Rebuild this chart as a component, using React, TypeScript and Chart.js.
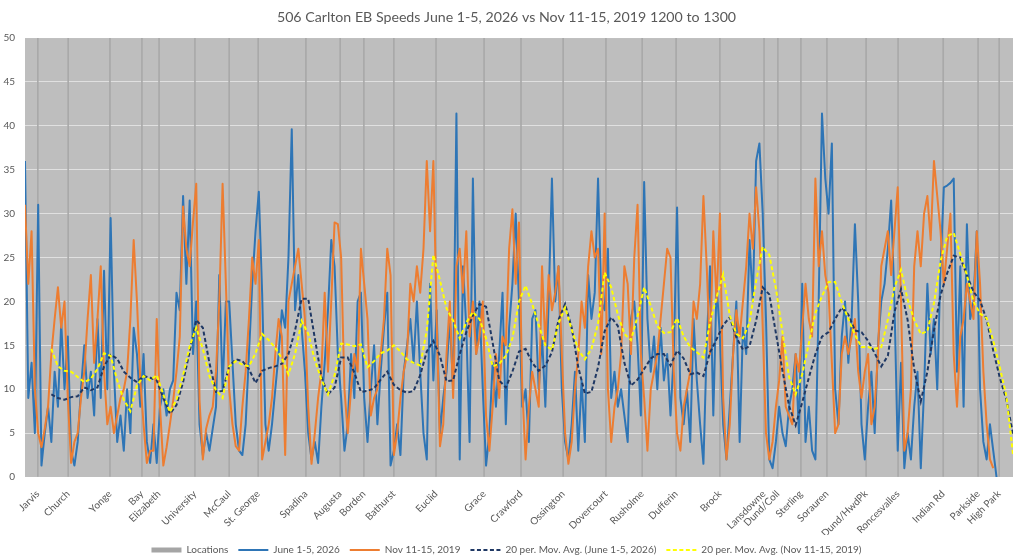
import React, { useEffect, useRef } from "react";
import { Chart, registerables } from "chart.js";

Chart.register(...registerables);
Chart.defaults.font.family = "Lato, 'Noto Sans', sans-serif";
Chart.defaults.color = "#595959";

const TITLE = "506 Carlton EB Speeds June 1-5, 2026 vs Nov 11-15, 2019 1200 to 1300";

const X_MAX = 300;
const Y_MAX = 50;
const Y_STEP = 5;

const LOCATIONS = [
  "Jarvis", "Church", "Yonge", "Bay", "Elizabeth", "University", "McCaul", "St. George",
  "Spadina", "Augusta", "Borden", "Bathurst", "Euclid", "Grace", "Crawford", "Ossington",
  "Dovercourt", "Rusholme", "Dufferin", "Brock", "Lansdowne", "Dund/Coll", "Sterling",
  "Sorauren", "Dund/HwdPk", "Roncesvalles", "Indian Rd", "Parkside", "High Park",
];
const LOCATION_AT = [
  3.9, 13.1, 25.8, 35.5, 40.7, 51.6, 62, 70.8, 85.3, 95.7, 102.9, 112, 124.8, 139.4, 150.6,
  163.4, 176.4, 187.4, 197.7, 211, 224.4, 228.6, 235.6, 243.5, 255.4, 265.1, 278.8, 289.4, 295.8,
];
const LOCATION_BAR = 50;

const JUNE_2026 = [
  36, 9, 13, 5, 31, 1.3, 5, 8, 4, 12, 8, 17.6, 10, 16, 3, 1.3, 4, 10, 15, 9,
  12, 7, 18, 9, 23.5, 10, 29.5, 12, 4, 7, 3, 10, 5, 17, 14, 8, 14, 4, 1.6, 6,
  1.6, 8, 10, 7, 10, 11, 21, 19, 32, 22, 31.5, 14, 20, 6, 2.5, 5, 3, 5.5, 8, 23,
  10, 20, 20, 13, 6, 3, 2.5, 6, 14, 22, 28, 32.5, 21, 6, 3, 6, 10, 14, 19, 17,
  25, 39.6, 19, 23, 17, 12, 5, 2, 4, 1.6, 8, 13, 19, 27, 24, 14, 9, 3, 6, 14,
  9, 20, 21, 9, 4, 10, 15, 6, 12, 17, 21, 1.3, 3, 6, 2.5, 12, 15, 18, 13, 20,
  12, 5, 2, 22, 11, 19, 5, 9, 12, 18, 10, 41.4, 2, 24, 17, 4, 34, 14, 20, 10,
  1.3, 5, 13, 8, 14, 21, 6, 17, 22, 30, 20, 8, 10, 4, 18, 19, 10, 16, 8, 20,
  34, 20, 24, 10, 4, 2, 6, 12, 3, 11, 4, 23, 18, 21, 34, 20, 19, 26, 9, 12,
  8, 10, 7, 4, 18, 20, 15, 7, 33.6, 18, 12, 16, 10, 17, 11, 14, 7, 14, 30.7, 9,
  6, 10, 4, 18, 11, 6, 1.5, 15, 24, 7, 22, 16, 6, 2, 8, 14, 20, 4, 17, 14,
  27, 20, 36, 38, 30, 18, 2, 1, 4, 8, 5, 3.5, 8, 10, 14, 5, 22, 4, 8, 3,
  2, 20, 41.4, 34, 30, 38, 10, 6, 16, 20, 13, 18, 28.8, 20, 6, 2, 8, 12, 5, 15,
  20, 22, 26, 31.5, 20, 3, 13, 1, 5, 2, 8, 12, 1, 10, 22, 14, 18, 10, 24, 33,
  33.2, 33.5, 34, 12, 24, 8, 28.8, 18, 20, 28, 10, 4, 2, 6, 3, 0,
];

const NOV_2019 = [
  31, 22, 28, 10, 5, 3.4, 5.5, 8, 14, 18, 21.6, 17, 20, 9, 1.6, 4, 5, 9, 12, 18,
  23, 13, 18, 24, 12, 6, 8, 5, 7, 9, 10, 12, 18, 27, 20, 11, 6, 1.6, 3, 3,
  18, 8, 1.3, 3.4, 6, 8.7, 12, 16, 30.8, 26, 24, 29, 33.4, 8.7, 2, 5.5, 7, 8, 12, 20,
  33.4, 22, 10, 6, 3.5, 3, 8, 12, 18, 25, 22, 27, 2, 4, 6, 9, 14, 18, 16, 2.5,
  20, 22, 24, 26, 22, 18, 8, 1.5, 5, 9, 12, 21, 12, 20, 29, 28.8, 25, 10, 5, 10,
  14, 12, 26, 22, 18, 7, 9, 10, 14, 18, 26, 23, 2.5, 5, 9, 12, 14, 22, 20, 24,
  21, 26, 36, 28, 36, 18, 3.5, 6, 14, 20, 9, 24, 26, 21, 28, 16, 20, 14, 16, 20,
  7, 3, 8, 14, 9, 16, 15, 26, 30.5, 22, 29, 10, 2, 8, 12, 10, 8, 24, 15, 23,
  19, 21, 24, 14, 5, 1.5, 4, 10, 14, 20, 17, 24, 28, 25, 26, 14, 30, 10, 4, 8,
  10, 14, 24, 22, 14, 25, 31, 14, 9, 3, 10, 12, 14, 18, 22, 26, 25, 12, 5, 3,
  8, 10, 12, 20, 18, 22, 32, 24, 14, 28, 20, 30, 9, 2, 6, 14, 19, 16, 20, 24,
  30, 26, 33, 28, 17, 5, 2, 4, 8, 11, 16, 8, 7, 6, 14, 12, 17, 22, 18, 16,
  34, 24, 28, 23, 21, 13, 5, 6, 14, 16, 14, 16, 18, 12, 9, 12, 14, 6, 8, 14,
  24, 26, 28, 23, 28, 33, 20, 3, 5, 10, 24, 28, 24, 30, 32, 27, 36, 32, 28, 22,
  26, 30, 14, 8, 16, 18, 22, 20, 18, 28, 22, 12, 6, 2, 1,
];

const MA_START = 8;
const MA_STEP = 2;
const MA_JUNE_2026 = [
  9.4, 9.0, 8.8, 9.1, 9.2, 10.2, 9.9, 10.2, 12.6, 13.9,
  13.5, 12.0, 11.3, 10.8, 11.5, 11.3, 11.0, 9.0, 7.2, 8.2,
  10.8, 14.3, 17.9, 17.0, 13.0, 9.7, 9.8, 12.6, 13.4, 13.2,
  12.3, 10.7, 12.1, 12.4, 12.6, 12.9, 14.0, 16.7, 20.3, 20.3,
  15.8, 11.4, 9.4, 10.2, 13.6, 13.6, 11.9, 9.7, 9.8, 10.1,
  11.1, 12.0, 10.5, 9.9, 9.6, 9.8, 11.6, 14.3, 15.5, 13.8,
  10.9, 11.0, 14.0, 16.5, 18.4, 19.7, 19.4, 15.3, 11.0, 10.2,
  12.0, 14.3, 14.6, 13.0, 12.1, 12.7, 14.2, 17.9, 19.7, 17.0,
  12.5, 9.5, 9.7, 12.5, 16.6, 18.2, 17.2, 13.0, 10.4, 11.1,
  12.3, 13.5, 14.0, 14.0, 12.7, 14.4, 13.5, 11.7, 11.9, 11.5,
  14.2, 15.7, 17.3, 18.2, 15.9, 14.5, 14.9, 17.8, 21.6, 20.8,
  16.4, 12.1, 8.1, 5.9, 8.5, 11.3, 14.0, 16.0, 16.5, 18.0,
  19.3, 18.5, 16.7, 16.5, 15.5, 14.1, 12.6, 13.8, 18.8, 21.4,
  17.9, 12.3, 8.6, 12.0, 16.7, 20.7, 23.2, 25.2, 25.0, 23.0,
  21.1, 20.1, 17.9, 14.4, 11.3, 8.8, 4.9,
];
const MA_NOV_2019 = [
  14.6, 12.6, 12.1, 12.0, 11.4, 10.8, 11.2, 12.3, 14.1, 13.8,
  11.0, 8.8, 7.5, 10.4, 11.5, 11.0, 11.6, 9.4, 7.4, 8.8,
  11.6, 14.9, 17.0, 14.6, 11.5, 9.9, 9.0, 12.6, 13.2, 12.8,
  12.6, 14.1, 16.3, 15.6, 14.7, 13.5, 11.7, 14.0, 17.8, 16.3,
  13.3, 11.1, 9.4, 11.6, 15.2, 15.1, 14.9, 15.1, 12.5, 13.2,
  14.1, 14.4, 15.0, 14.3, 13.4, 13.0, 12.7, 16.7, 25.3, 22.4,
  19.2, 17.8, 15.8, 17.6, 18.8, 18.0, 15.8, 12.6, 12.9, 13.8,
  15.8, 20.0, 21.8, 19.7, 17.3, 15.0, 14.5, 17.5, 19.3, 16.8,
  14.5, 13.4, 14.6, 17.5, 23.3, 21.6, 18.5, 16.3, 15.6, 18.3,
  21.6, 19.5, 17.2, 16.4, 16.5, 18.1, 16.0, 14.8, 14.2, 13.6,
  17.6, 20.5, 23.1, 18.4, 16.3, 15.8, 17.6, 22.3, 26.2, 25.3,
  21.5, 16.5, 11.4, 9.4, 11.7, 15.2, 18.7, 20.6, 22.2, 22.2,
  19.9, 18.0, 16.2, 14.8, 14.8, 14.6, 14.8, 17.9, 21.6, 23.6,
  20.2, 17.9, 16.3, 16.6, 19.8, 24.6, 27.4, 27.8, 25.4, 23.0,
  20.0, 18.6, 18.1, 15.5, 12.5, 9.2, 2.6,
];

const COLORS = {
  plot: "#bebebe",
  grid: "#e0e0e0",
  location: "#a9a9a9",
  locationKey: "#a5a5a5",
  june: "#2e75b6",
  nov: "#ed7d31",
  maJune: "#1f3864",
  maNov: "#ffff00",
};

const plotBackground = {
  id: "plotBackground",
  beforeDraw(chart: any) {
    const { ctx, chartArea: a } = chart;
    ctx.save();
    ctx.fillStyle = COLORS.plot;
    ctx.fillRect(a.left, a.top, a.right - a.left, a.bottom - a.top);
    ctx.restore();
  },
};

export default function App() {
  const ref = useRef<HTMLCanvasElement>(null);

  useEffect(() => {
    if (!ref.current) return;
    const series = (vals: number[]) => vals.map((y, i) => ({ x: i, y }));
    const maSeries = (vals: number[]) => vals.map((y, i) => ({ x: MA_START + i * MA_STEP, y }));

    const chart = new Chart(ref.current, {
      type: "line",
      data: {
        datasets: [
          {
            type: "bar",
            label: "Locations",
            data: LOCATION_AT.map((x) => ({ x, y: LOCATION_BAR })),
            backgroundColor: COLORS.location,
            borderWidth: 0,
            barThickness: 1,
            order: 4,
          } as any,
          {
            label: "June 1-5, 2026",
            data: series(JUNE_2026),
            borderColor: COLORS.june,
            backgroundColor: COLORS.june,
            borderWidth: 2,
            borderJoinStyle: "round",
            order: 3,
          },
          {
            label: "Nov 11-15, 2019",
            data: series(NOV_2019),
            borderColor: COLORS.nov,
            backgroundColor: COLORS.nov,
            borderWidth: 2,
            borderJoinStyle: "round",
            order: 2,
          },
          {
            label: "20 per. Mov. Avg. (June 1-5, 2026)",
            data: maSeries(MA_JUNE_2026),
            borderColor: COLORS.maJune,
            backgroundColor: COLORS.maJune,
            borderWidth: 2,
            borderDash: [4, 2.5],
            order: 1,
          },
          {
            label: "20 per. Mov. Avg. (Nov 11-15, 2019)",
            data: maSeries(MA_NOV_2019),
            borderColor: COLORS.maNov,
            backgroundColor: COLORS.maNov,
            borderWidth: 2,
            borderDash: [4, 2.5],
            order: 0,
          },
        ],
      },
      options: {
        responsive: false,
        animation: false,
        events: [],
        layout: { padding: { left: 0, right: 11, top: 0, bottom: -6 } },
        elements: {
          point: { radius: 0 },
          line: { tension: 0 },
        },
        plugins: {
          title: {
            display: true,
            text: TITLE,
            color: "#595959",
            font: { size: 14.2, weight: "normal" },
            padding: { top: 9, bottom: 12 },
          },
          tooltip: { enabled: false },
          legend: {
            position: "bottom",
            labels: {
              usePointStyle: true,
              pointStyleWidth: 30,
              boxHeight: 5,
              padding: 10,
              color: "#595959",
              font: { size: 10 },
              generateLabels: (c: any) =>
                c.data.datasets.map((ds: any, i: number) => ({
                  text: ds.label,
                  datasetIndex: i,
                  hidden: false,
                  fontColor: "#595959",
                  fillStyle: i === 0 ? COLORS.locationKey : ds.borderColor,
                  strokeStyle: i === 0 ? COLORS.locationKey : ds.borderColor,
                  lineWidth: i === 0 ? 0 : 2,
                  lineDash: ds.borderDash || [],
                  pointStyle: i === 0 ? "rect" : "line",
                })),
            },
          },
        },
        scales: {
          x: {
            type: "linear",
            min: 0,
            max: X_MAX,
            offset: false,
            grid: { display: false },
            border: { display: false },
            afterBuildTicks: (scale: any) => {
              scale.ticks = LOCATION_AT.map((v) => ({ value: v }));
            },
            afterFit: (scale: any) => {
              scale.height = 58;
            },
            ticks: {
              autoSkip: false,
              minRotation: 45,
              maxRotation: 45,
              padding: 3,
              color: "#595959",
              font: { size: 10 },
              callback: (_v: any, i: number) => LOCATIONS[i],
            },
          },
          y: {
            min: 0,
            max: Y_MAX,
            afterFit: (scale: any) => {
              scale.width = 25;
            },
            border: { display: false },
            grid: {
              drawTicks: false,
              color: (ctx: any) =>
                ctx.tick && (ctx.tick.value === 0 || ctx.tick.value === Y_MAX)
                  ? "rgba(0,0,0,0)"
                  : COLORS.grid,
            },
            ticks: {
              stepSize: Y_STEP,
              padding: 10,
              color: "#595959",
              font: { size: 10 },
            },
          },
        },
      },
      plugins: [plotBackground],
    } as any);

    return () => chart.destroy();
  }, []);

  return (
    <div style={{ position: "fixed", left: 0, top: 0, width: 1024, height: 559, background: "#fff" }}>
      <canvas ref={ref} width={1024} height={559} />
    </div>
  );
}
